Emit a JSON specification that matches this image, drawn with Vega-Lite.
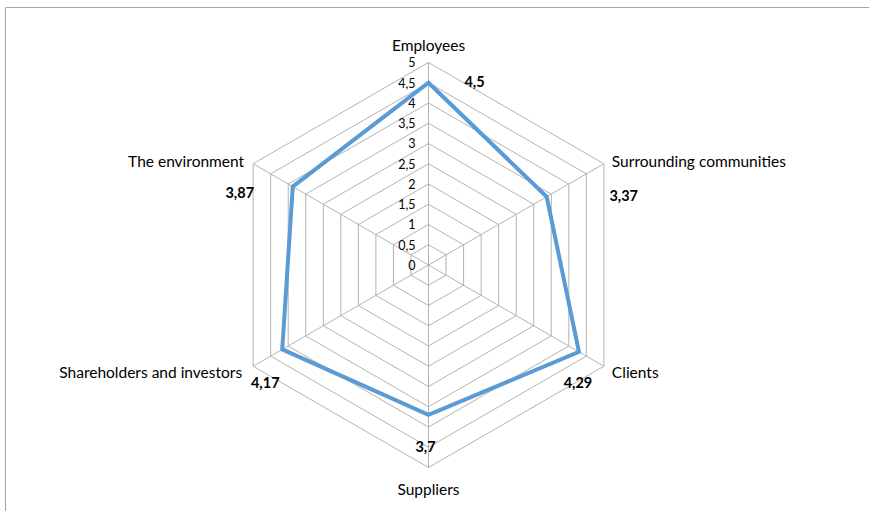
{
  "$schema": "https://vega.github.io/schema/vega-lite/v6.json",
  "width": 866,
  "height": 506,
  "autosize": {"type": "none"},
  "padding": {"left": 5, "top": 7, "right": -2, "bottom": -2},
  "background": "white",
  "config": {
    "view": {"stroke": "#a6a6a6", "strokeWidth": 1},
    "text": {"font": "Lato", "fontSize": 15.5, "fill": "#000000"}
  },
  "datasets": {
    "cats": [
      {"cat": "Employees", "v": 4.5, "k": 0},
      {"cat": "Surrounding communities", "v": 3.37, "k": 1},
      {"cat": "Clients", "v": 4.29, "k": 2},
      {"cat": "Suppliers", "v": 3.7, "k": 3},
      {"cat": "Shareholders and investors", "v": 4.17, "k": 4},
      {"cat": "The environment", "v": 3.87, "k": 5}
    ],
    "levels": [
      {"lvl": 0, "k": [0, 1, 2, 3, 4, 5]},
      {"lvl": 0.5, "k": [0, 1, 2, 3, 4, 5]},
      {"lvl": 1, "k": [0, 1, 2, 3, 4, 5]},
      {"lvl": 1.5, "k": [0, 1, 2, 3, 4, 5]},
      {"lvl": 2, "k": [0, 1, 2, 3, 4, 5]},
      {"lvl": 2.5, "k": [0, 1, 2, 3, 4, 5]},
      {"lvl": 3, "k": [0, 1, 2, 3, 4, 5]},
      {"lvl": 3.5, "k": [0, 1, 2, 3, 4, 5]},
      {"lvl": 4, "k": [0, 1, 2, 3, 4, 5]},
      {"lvl": 4.5, "k": [0, 1, 2, 3, 4, 5]},
      {"lvl": 5, "k": [0, 1, 2, 3, 4, 5]}
    ]
  },
  "encoding": {
    "x": {"field": "px", "type": "quantitative", "scale": {"domain": [-10.457, 10.926], "nice": false, "zero": false}, "axis": null},
    "y": {"field": "py", "type": "quantitative", "scale": {"domain": [-6.123, 6.37], "nice": false, "zero": false}, "axis": null}
  },
  "layer": [
    {
      "data": {"name": "levels"},
      "transform": [
        {"filter": "datum.lvl > 0"},
        {"flatten": ["k"]},
        {"calculate": "datum.k * PI / 3", "as": "a"},
        {"calculate": "datum.lvl * sin(datum.a)", "as": "px"},
        {"calculate": "datum.lvl * cos(datum.a)", "as": "py"}
      ],
      "mark": {"type": "line", "interpolate": "linear-closed", "stroke": "#b3b3b3", "strokeWidth": 1},
      "encoding": {"detail": {"field": "lvl", "type": "nominal"}, "order": {"field": "k", "type": "quantitative"}}
    },
    {
      "data": {"name": "cats"},
      "transform": [
        {"calculate": "datum.k * PI / 3", "as": "a"},
        {"calculate": "5 * sin(datum.a)", "as": "px"},
        {"calculate": "5 * cos(datum.a)", "as": "py"},
        {"calculate": "0", "as": "zero"}
      ],
      "mark": {"type": "rule", "stroke": "#b3b3b3", "strokeWidth": 1},
      "encoding": {"x2": {"field": "zero"}, "y2": {"field": "zero"}}
    },
    {
      "data": {"name": "cats"},
      "transform": [
        {"calculate": "datum.k * PI / 3", "as": "a"},
        {"calculate": "datum.v * sin(datum.a)", "as": "px"},
        {"calculate": "datum.v * cos(datum.a)", "as": "py"}
      ],
      "mark": {"type": "line", "interpolate": "linear-closed", "stroke": "#5b9bd5", "strokeWidth": 4, "strokeJoin": "miter"},
      "encoding": {"order": {"field": "k", "type": "quantitative"}}
    },
    {
      "data": {"name": "levels"},
      "transform": [
        {"calculate": "0", "as": "px"},
        {"calculate": "datum.lvl", "as": "py"},
        {"calculate": "replace(toString(datum.lvl), '.', ',')", "as": "lab"}
      ],
      "mark": {"type": "text", "align": "right", "baseline": "middle", "dx": -13, "dy": 1, "fontSize": 12.5},
      "encoding": {"text": {"field": "lab"}}
    },
    {
      "data": {"name": "cats"},
      "transform": [
        {"calculate": "datum.k * PI / 3", "as": "a"},
        {"calculate": "5 * sin(datum.a)", "as": "px"},
        {"calculate": "5 * cos(datum.a)", "as": "py"},
        {"filter": "datum.k == 0"}
      ],
      "mark": {"type": "text", "align": "center", "baseline": "middle", "dy": -16},
      "encoding": {"text": {"field": "cat"}}
    },
    {
      "data": {"name": "cats"},
      "transform": [
        {"calculate": "datum.k * PI / 3", "as": "a"},
        {"calculate": "5 * sin(datum.a)", "as": "px"},
        {"calculate": "5 * cos(datum.a)", "as": "py"},
        {"filter": "datum.k == 3"}
      ],
      "mark": {"type": "text", "align": "center", "baseline": "middle", "dy": 22},
      "encoding": {"text": {"field": "cat"}}
    },
    {
      "data": {"name": "cats"},
      "transform": [
        {"calculate": "datum.k * PI / 3", "as": "a"},
        {"calculate": "5 * sin(datum.a)", "as": "px"},
        {"calculate": "5 * cos(datum.a)", "as": "py"},
        {"filter": "datum.k == 1"}
      ],
      "mark": {"type": "text", "align": "left", "baseline": "middle", "dx": 8, "dy": -2},
      "encoding": {"text": {"field": "cat"}}
    },
    {
      "data": {"name": "cats"},
      "transform": [
        {"calculate": "datum.k * PI / 3", "as": "a"},
        {"calculate": "5 * sin(datum.a)", "as": "px"},
        {"calculate": "5 * cos(datum.a)", "as": "py"},
        {"filter": "datum.k == 2"}
      ],
      "mark": {"type": "text", "align": "left", "baseline": "middle", "dx": 8, "dy": 7},
      "encoding": {"text": {"field": "cat"}}
    },
    {
      "data": {"name": "cats"},
      "transform": [
        {"calculate": "datum.k * PI / 3", "as": "a"},
        {"calculate": "5 * sin(datum.a)", "as": "px"},
        {"calculate": "5 * cos(datum.a)", "as": "py"},
        {"filter": "datum.k == 4"}
      ],
      "mark": {"type": "text", "align": "right", "baseline": "middle", "dx": -11, "dy": 7},
      "encoding": {"text": {"field": "cat"}}
    },
    {
      "data": {"name": "cats"},
      "transform": [
        {"calculate": "datum.k * PI / 3", "as": "a"},
        {"calculate": "5 * sin(datum.a)", "as": "px"},
        {"calculate": "5 * cos(datum.a)", "as": "py"},
        {"filter": "datum.k == 5"}
      ],
      "mark": {"type": "text", "align": "right", "baseline": "middle", "dx": -9, "dy": -2},
      "encoding": {"text": {"field": "cat"}}
    },
    {
      "data": {"name": "cats"},
      "transform": [
        {"calculate": "datum.k * PI / 3", "as": "a"},
        {"calculate": "datum.v * sin(datum.a)", "as": "px"},
        {"calculate": "datum.v * cos(datum.a)", "as": "py"},
        {"calculate": "replace(toString(datum.v), '.', ',')", "as": "lab"},
        {"filter": "datum.k == 0"}
      ],
      "mark": {"type": "text", "align": "center", "baseline": "middle", "fontWeight": "bold", "fontSize": 14.5, "dx": 46, "dy": 0},
      "encoding": {"text": {"field": "lab"}}
    },
    {
      "data": {"name": "cats"},
      "transform": [
        {"calculate": "datum.k * PI / 3", "as": "a"},
        {"calculate": "datum.v * sin(datum.a)", "as": "px"},
        {"calculate": "datum.v * cos(datum.a)", "as": "py"},
        {"calculate": "replace(toString(datum.v), '.', ',')", "as": "lab"},
        {"filter": "datum.k == 1"}
      ],
      "mark": {"type": "text", "align": "center", "baseline": "middle", "fontWeight": "bold", "fontSize": 14.5, "dx": 77, "dy": 0},
      "encoding": {"text": {"field": "lab"}}
    },
    {
      "data": {"name": "cats"},
      "transform": [
        {"calculate": "datum.k * PI / 3", "as": "a"},
        {"calculate": "datum.v * sin(datum.a)", "as": "px"},
        {"calculate": "datum.v * cos(datum.a)", "as": "py"},
        {"calculate": "replace(toString(datum.v), '.', ',')", "as": "lab"},
        {"filter": "datum.k == 2"}
      ],
      "mark": {"type": "text", "align": "center", "baseline": "middle", "fontWeight": "bold", "fontSize": 14.5, "dx": -1, "dy": 32},
      "encoding": {"text": {"field": "lab"}}
    },
    {
      "data": {"name": "cats"},
      "transform": [
        {"calculate": "datum.k * PI / 3", "as": "a"},
        {"calculate": "datum.v * sin(datum.a)", "as": "px"},
        {"calculate": "datum.v * cos(datum.a)", "as": "py"},
        {"calculate": "replace(toString(datum.v), '.', ',')", "as": "lab"},
        {"filter": "datum.k == 3"}
      ],
      "mark": {"type": "text", "align": "center", "baseline": "middle", "fontWeight": "bold", "fontSize": 14.5, "dx": -3, "dy": 33},
      "encoding": {"text": {"field": "lab"}}
    },
    {
      "data": {"name": "cats"},
      "transform": [
        {"calculate": "datum.k * PI / 3", "as": "a"},
        {"calculate": "datum.v * sin(datum.a)", "as": "px"},
        {"calculate": "datum.v * cos(datum.a)", "as": "py"},
        {"calculate": "replace(toString(datum.v), '.', ',')", "as": "lab"},
        {"filter": "datum.k == 4"}
      ],
      "mark": {"type": "text", "align": "center", "baseline": "middle", "fontWeight": "bold", "fontSize": 14.5, "dx": -17, "dy": 35},
      "encoding": {"text": {"field": "lab"}}
    },
    {
      "data": {"name": "cats"},
      "transform": [
        {"calculate": "datum.k * PI / 3", "as": "a"},
        {"calculate": "datum.v * sin(datum.a)", "as": "px"},
        {"calculate": "datum.v * cos(datum.a)", "as": "py"},
        {"calculate": "replace(toString(datum.v), '.', ',')", "as": "lab"},
        {"filter": "datum.k == 5"}
      ],
      "mark": {"type": "text", "align": "center", "baseline": "middle", "fontWeight": "bold", "fontSize": 14.5, "dx": -53, "dy": 7},
      "encoding": {"text": {"field": "lab"}}
    }
  ]
}
